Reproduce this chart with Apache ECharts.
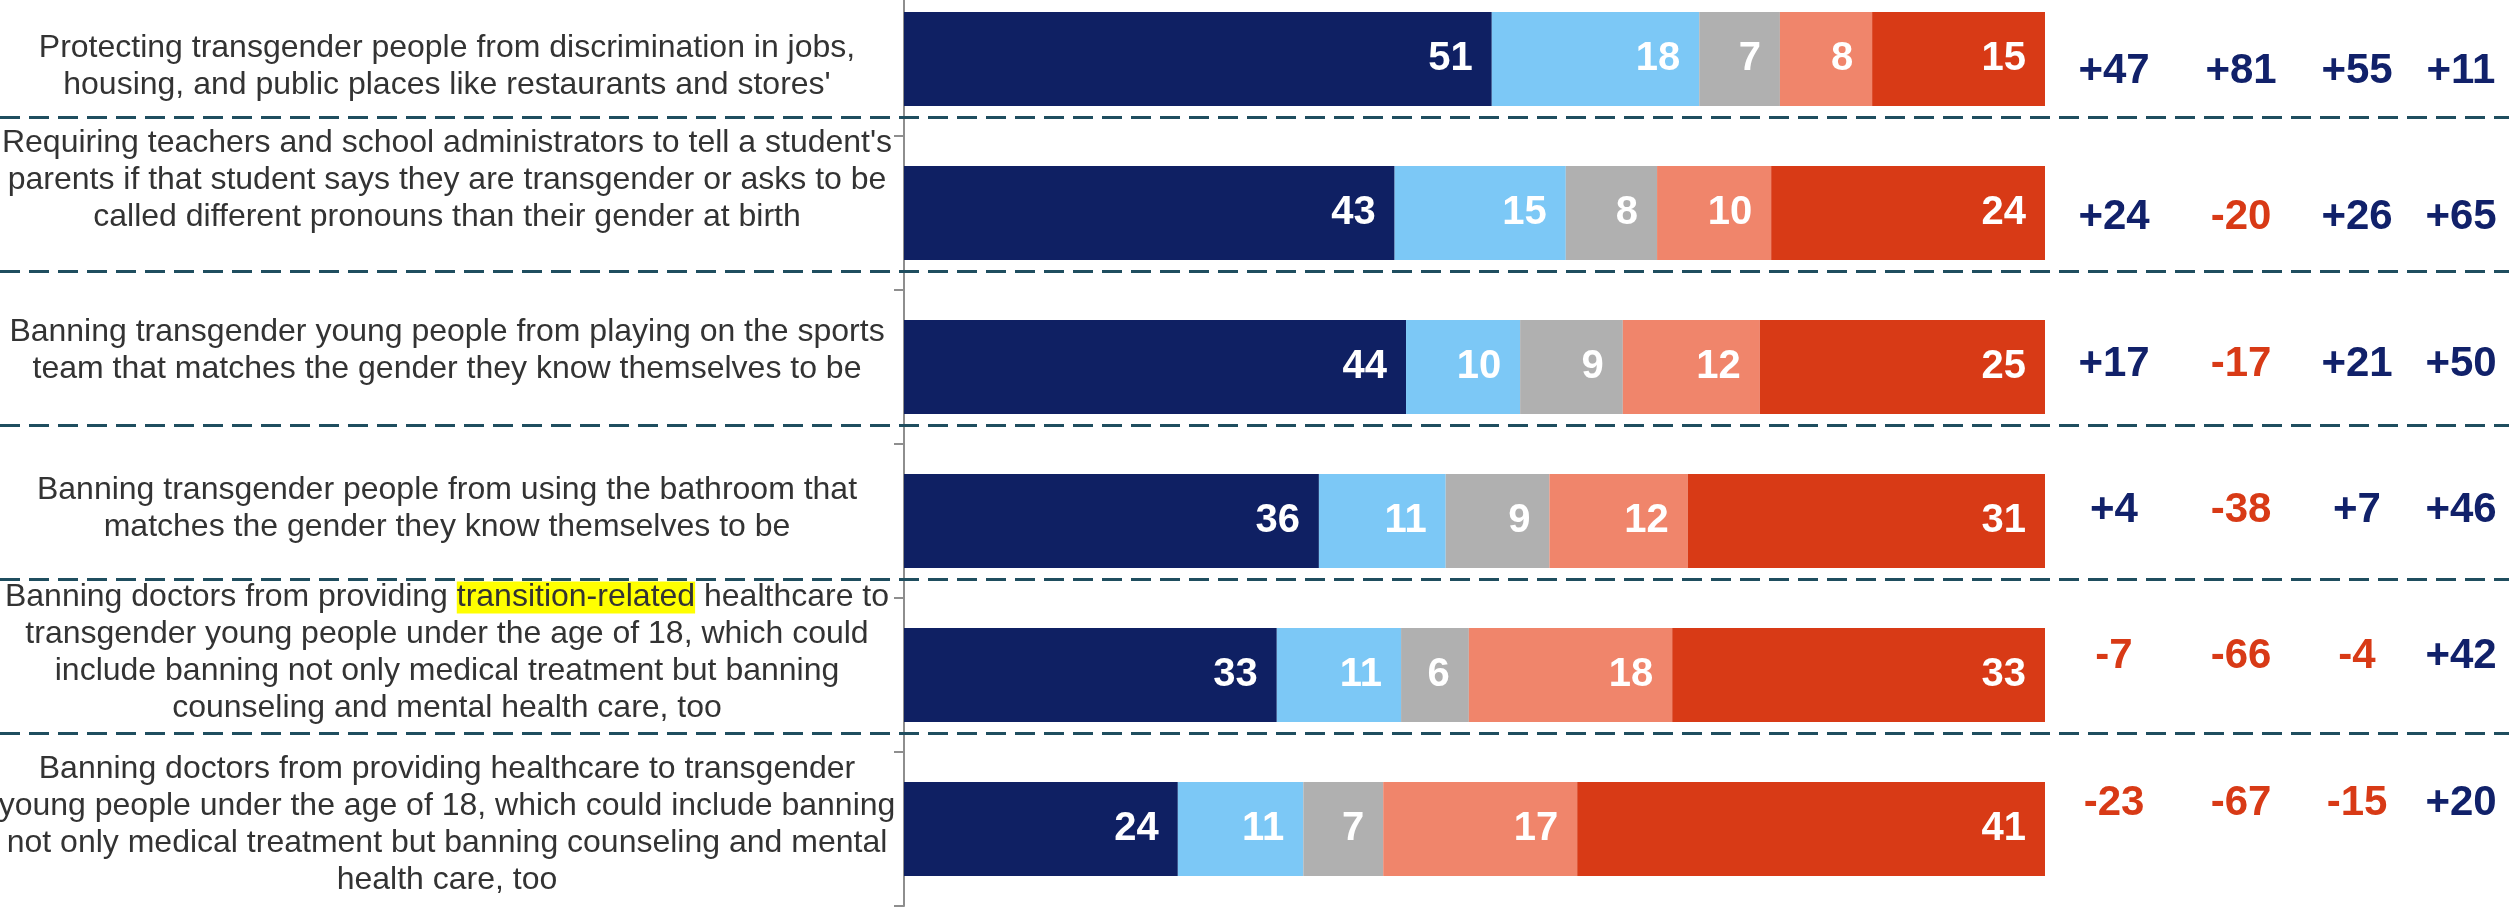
<!DOCTYPE html>
<html>
<head>
<meta charset="utf-8">
<script src="https://cdn.jsdelivr.net/npm/echarts@6/dist/echarts.min.js"></script>
<style>
  html, body { margin: 0; padding: 0; background: #ffffff; }
  #main { width: 2509px; height: 908px; }
</style>
</head>
<body>
<div id="main"></div>
<script>
// Policy statements (top to bottom), with manual line breaks
const statements = [
  "Protecting transgender people from discrimination in jobs,\nhousing, and public places like restaurants and stores'",
  "Requiring teachers and school administrators to tell a student's\nparents if that student says they are transgender or asks to be\ncalled different pronouns than their gender at birth",
  "Banning transgender young people from playing on the sports\nteam that matches the gender they know themselves to be",
  "Banning transgender people from using the bathroom that\nmatches the gender they know themselves to be",
  "Banning doctors from providing transition-related healthcare to\ntransgender young people under the age of 18, which could\ninclude banning not only medical treatment but banning\ncounseling and mental health care, too",
  "Banning doctors from providing healthcare to transgender\nyoung people under the age of 18, which could include banning\nnot only medical treatment but banning counseling and mental\nhealth care, too"
];

// Response shares (%)
const strongSupport = [51, 43, 44, 36, 33, 24];
const someSupport   = [18, 15, 10, 11, 11, 11];
const notSure       = [7, 8, 9, 9, 6, 7];
const someOppose    = [8, 10, 12, 12, 18, 17];
const strongOppose  = [15, 24, 25, 31, 33, 41];
const responseNames = ['Strongly support', 'Somewhat support', 'Not sure', 'Somewhat oppose', 'Strongly oppose'];

// Net support by group
const netGroups = ['All voters', 'Democrats', 'Independents', 'Republicans'];
const netAll = [47, 24, 17, 4, -7, -23];
const netDem = [81, -20, -17, -38, -66, -67];
const netInd = [55, 26, 21, 7, -4, -15];
const netRep = [11, 65, 50, 46, 42, 20];

// ---- styling / layout ----
const FONT = '"Liberation Sans", Arial, Helvetica, sans-serif';
const segColors = ['#0F2063', '#7CC8F6', '#B0B0B0', '#F0856B', '#D83A16'];
const NAVY = '#11216A';
const RED = '#D83A16';
const TEXT = '#333333';
// vertical nudge of each statement label relative to its bar (px)
const labelNudge = [8, -33, -16, -12, -22, -4];
// centre line of each net-support column (px)
const netColumnCentres = [2114, 2241, 2357, 2461];

const responses = [strongSupport, someSupport, notSure, someOppose, strongOppose];
const netCols = [netAll, netDem, netInd, netRep];
const rowTotals = statements.map((_, i) => responses.reduce((s, arr) => s + arr[i], 0));

const grids = [
  { left: 904, right: 464, top: -18, height: 924 },      // bars
  { left: 0, width: 894, top: -18, height: 924 }         // statement texts
];
const xAxes = [
  { type: 'value', gridIndex: 0, min: 0, max: 100, show: false },
  { type: 'category', gridIndex: 1, data: ['statement'], show: false }
];
const yAxes = [
  {
    type: 'category',
    gridIndex: 0,
    inverse: true,
    data: statements,
    axisLine: { show: true, lineStyle: { color: '#8E8E8E', width: 2 } },
    axisTick: { show: true, length: 10, lineStyle: { color: '#8E8E8E', width: 2 } },
    splitLine: { show: false },
    axisLabel: { show: false }
  },
  { type: 'category', gridIndex: 1, inverse: true, data: statements, show: false }
];

const series = responses.map((arr, k) => ({
  type: 'bar',
  name: responseNames[k],
  stack: 'share',
  xAxisIndex: 0,
  yAxisIndex: 0,
  barWidth: 94,
  data: arr.map((v, i) => v / rowTotals[i] * 100),
  itemStyle: { color: segColors[k] },
  label: {
    show: true,
    position: 'insideRight',
    distance: 19,
    color: '#ffffff',
    fontFamily: FONT,
    fontSize: 40,
    fontWeight: 'bold',
    formatter: p => String(arr[p.dataIndex])
  }
}));

// Statement texts, centred in the left panel
series.push({
  type: 'scatter',
  xAxisIndex: 1,
  yAxisIndex: 1,
  symbolSize: 1,
  itemStyle: { color: 'transparent', opacity: 1 },
  silent: true,
  data: statements.map((s, i) => ({ value: [0, i], label: { offset: [0, labelNudge[i]] } })),
  label: {
    show: true,
    position: 'inside',
    align: 'center',
    verticalAlign: 'middle',
    color: TEXT,
    fontFamily: FONT,
    fontSize: 32,
    lineHeight: 37,
    formatter: p => statements[p.dataIndex].replace('transition-related', '{hl|transition-related}'),
    rich: {
      hl: {
        backgroundColor: '#FFFF00',
        color: TEXT,
        fontFamily: FONT,
        fontSize: 32,
        lineHeight: 37
      }
    }
  }
});

// Net-support columns: one narrow grid per group
netCols.forEach((col, c) => {
  const g = grids.length;
  grids.push({ left: netColumnCentres[c] - 60, width: 120, top: -1.65, height: 877.8 });
  xAxes.push({ type: 'category', gridIndex: g, data: [netGroups[c]], show: false });
  yAxes.push({ type: 'category', gridIndex: g, inverse: true, data: statements, show: false });
  series.push({
    type: 'scatter',
    name: netGroups[c],
    xAxisIndex: g,
    yAxisIndex: g,
    symbolSize: 1,
    itemStyle: { color: 'transparent', opacity: 1 },
    silent: true,
    data: col.map((v, r) => ({ value: [0, r, v], label: { color: v < 0 ? RED : NAVY } })),
    label: {
      show: true,
      position: 'inside',
      align: 'center',
      verticalAlign: 'middle',
      fontFamily: FONT,
      fontSize: 42,
      fontWeight: 'bold',
      formatter: p => (p.value[2] > 0 ? '+' : '') + p.value[2]
    }
  });
});

grids.forEach(g => { g.containLabel = false; g.outerBoundsMode = 'none'; });

const chart = echarts.init(document.getElementById('main'), null, { renderer: 'canvas' });

chart.setOption({
  animation: false,
  backgroundColor: '#ffffff',
  grid: grids,
  xAxis: xAxes,
  yAxis: yAxes,
  series: series
});

// Dashed separators between statements, placed from the category axis positions
function drawSeparators() {
  const y0 = chart.convertToPixel({ yAxisIndex: 0 }, 0);
  const y1 = chart.convertToPixel({ yAxisIndex: 0 }, 1);
  const pitch = y1 - y0;
  const width = chart.getWidth();
  const lines = [];
  for (let i = 1; i < statements.length; i++) {
    const yc = chart.convertToPixel({ yAxisIndex: 0 }, i);
    const y = Math.round(yc - pitch / 2 - 19) + 0.5;
    lines.push({
      type: 'line',
      silent: true,
      z: 10,
      shape: { x1: 0, y1: y, x2: width, y2: y },
      style: { stroke: '#1F4E5F', lineWidth: 3, lineDash: [20, 9] }
    });
  }
  chart.setOption({ graphic: lines });
}
drawSeparators();
</script>
</body>
</html>
